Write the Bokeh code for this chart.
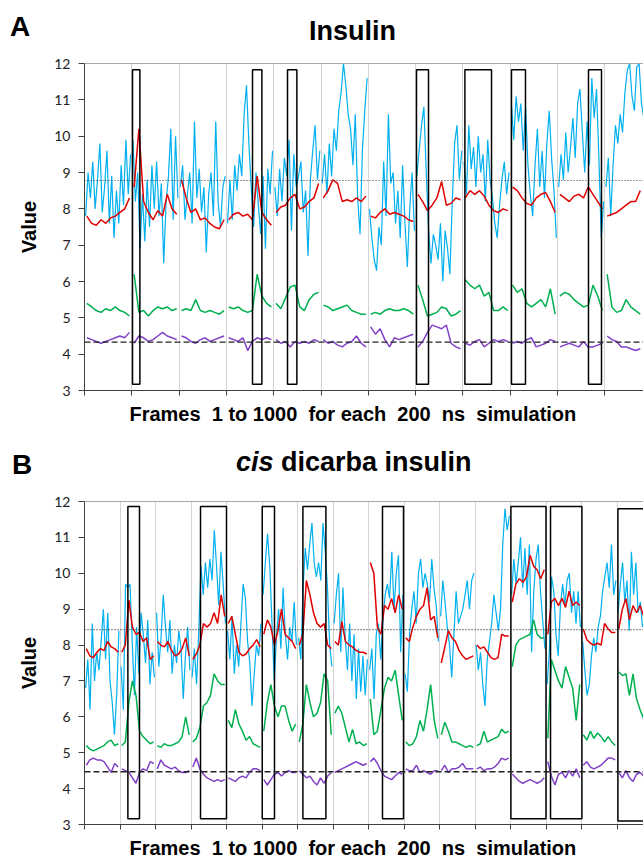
from bokeh.plotting import figure
from bokeh.layouts import column
from bokeh.models import Range1d, Span, FixedTicker, Div
from bokeh.embed import file_html
from bokeh.resources import INLINE

SEG = 1000  # frames per simulation

# ---------------- Panel A : Insulin (one list per 200 ns simulation) ----------------
a_blue = [
    [7.8, 9.0, 8.3, 9.3, 8.0, 8.8, 9.8, 7.9, 8.6, 9.6, 7.6, 8.9, 7.2, 8.5, 7.6, 9.2, 8.1, 9.9, 8.4, 9.5],
    [9.9, 8.2, 9.0, 6.9, 8.4, 7.1, 8.8, 7.5, 9.2, 8.0, 9.3, 7.8, 8.7, 6.5, 8.2, 8.9, 10.2, 7.7, 10.0, 8.3],
    [8.6, 9.2, 7.7, 8.4, 9.0, 7.6, 10.4, 8.3, 9.1, 7.9, 8.6, 6.8, 8.4, 9.0, 7.8, 10.4, 8.2, 7.5, 8.6, 8.9],
    [7.6, 8.8, 7.7, 9.2, 8.5, 9.5, 8.9, 10.6, 11.4, 9.8, 8.6, 7.5, 9.0, 8.1, 7.3, 8.9, 6.9, 9.1, 8.4, 9.6],
    [8.6, 7.8, 9.1, 8.2, 9.4, 8.9, 9.9, 7.4, 9.5, 8.6, 8.9, 9.3, 7.9, 8.5, 6.7, 8.8, 9.6, 10.3, 8.8, 9.6],
    [8.7, 9.5, 8.4, 9.8, 8.9, 10.2, 9.6, 10.7, 11.2, 12.0, 11.4, 10.6, 10.2, 9.2, 10.6, 8.3, 7.3, 9.6, 10.7, 11.6],
    [8.0, 7.2, 6.6, 6.3, 7.5, 7.0, 9.3, 7.8, 10.6, 8.7, 9.0, 7.6, 8.5, 7.2, 9.2, 7.6, 6.4, 8.0, 9.0, 7.4],
    [8.9, 9.6, 10.3, 10.8, 9.0, 7.4, 6.5, 7.3, 7.0, 6.6, 7.6, 6.0, 7.4, 6.9, 6.2, 8.2, 9.8, 10.3, 8.8, 9.6],
    [9.3, 8.4, 10.3, 9.1, 9.7, 8.6, 10.0, 9.0, 9.5, 8.2, 9.9, 8.8, 8.3, 7.6, 7.2, 8.1, 8.8, 9.3, 8.4, 9.0],
    [10.9, 9.9, 11.1, 10.4, 10.9, 9.6, 10.8, 9.2, 8.4, 7.8, 9.2, 10.2, 8.6, 9.6, 8.3, 9.8, 10.7, 9.4, 8.5, 7.2],
    [8.6, 9.5, 8.8, 10.1, 9.0, 9.7, 10.5, 9.4, 10.9, 11.3, 10.1, 9.0, 10.4, 9.2, 11.6, 10.5, 11.3, 9.4, 7.2, 8.2],
    [8.6, 9.4, 7.8, 9.2, 10.3, 9.8, 10.6, 10.1, 11.2, 11.8, 12.0, 11.1, 10.7, 11.9, 12.0, 10.9, 10.5],
]
a_red = [
    [7.8, 7.6, 7.55, 7.7, 7.6, 7.75, 7.8, 7.9, 8.0, 8.3],
    [8.6, 10.2, 8.2, 7.9, 7.7, 7.95, 7.8, 8.4, 8.0, 7.85],
    [8.8, 8.3, 7.9, 8.0, 7.7, 7.75, 7.6, 7.5, 7.45, 7.7],
    [7.7, 7.85, 7.9, 7.8, 7.85, 7.7, 8.9, 7.9, 7.7, 7.55],
    [7.9, 8.05, 8.1, 8.3, 8.4, 8.0, 8.05, 8.2, 8.3, 8.7],
    [8.3, 8.5, 8.8, 8.7, 8.2, 8.25, 8.2, 8.3, 8.2, 8.35],
    [7.8, 7.75, 7.9, 8.0, 7.85, 7.9, 7.85, 7.8, 7.7, 7.65],
    [8.4, 8.2, 7.95, 8.1, 8.3, 8.75, 8.1, 8.15, 8.3, 8.25],
    [8.3, 8.5, 8.4, 8.5, 8.35, 8.1, 7.95, 7.9, 8.0, 7.95],
    [8.6, 8.5, 8.3, 8.15, 8.1, 8.3, 8.4, 8.45, 8.2, 7.9],
    [8.4, 8.3, 8.2, 8.35, 8.4, 8.3, 8.6, 8.4, 8.2, 8.0],
    [7.8, 7.85, 7.9, 8.0, 8.1, 8.2, 8.2, 8.5],
]
a_green = [
    [5.4, 5.3, 5.2, 5.15, 5.25, 5.2, 5.3, 5.2, 5.15, 5.05],
    [6.2, 5.15, 5.2, 5.05, 5.2, 5.3, 5.25, 5.3, 5.2, 5.25],
    [5.2, 5.25, 5.2, 5.5, 5.2, 5.15, 5.2, 5.15, 5.1, 5.2],
    [5.3, 5.25, 5.3, 5.2, 5.15, 5.2, 6.2, 5.6, 5.4, 5.3],
    [5.4, 5.25, 5.55, 5.85, 5.9, 5.3, 5.2, 5.5, 5.65, 5.7],
    [5.35, 5.3, 5.2, 5.25, 5.3, 5.35, 5.2, 5.15, 5.1, 5.1],
    [5.1, 5.15, 5.1, 5.2, 5.25, 5.2, 5.2, 5.25, 5.2, 5.1],
    [5.9, 5.5, 5.05, 5.1, 5.15, 5.3, 5.25, 5.05, 5.1, 5.2],
    [6.05, 5.9, 5.8, 5.9, 5.6, 5.7, 5.2, 5.2, 5.3, 5.2],
    [5.9, 5.7, 5.8, 5.4, 5.3, 5.4, 5.5, 5.3, 5.8, 5.1],
    [5.6, 5.7, 5.65, 5.5, 5.4, 5.3, 5.35, 5.9, 5.6, 5.2],
    [6.2, 5.3, 5.15, 5.2, 5.5, 5.3, 5.2, 5.1],
]
a_purple = [
    [4.45, 4.4, 4.35, 4.3, 4.35, 4.4, 4.45, 4.5, 4.45, 4.6],
    [4.3, 4.5, 4.45, 4.35, 4.4, 4.5, 4.6, 4.5, 4.45, 4.4],
    [4.5, 4.45, 4.35, 4.3, 4.4, 4.45, 4.35, 4.4, 4.45, 4.5],
    [4.45, 4.4, 4.35, 4.45, 4.1, 4.35, 4.45, 4.4, 4.45, 4.4],
    [4.4, 4.3, 4.35, 4.2, 4.35, 4.3, 4.35, 4.3, 4.4, 4.35],
    [4.4, 4.3, 4.35, 4.25, 4.2, 4.3, 4.35, 4.5, 4.3, 4.2],
    [4.75, 4.55, 4.7, 4.4, 4.2, 4.45, 4.4, 4.45, 4.5, 4.55],
    [4.2, 4.35, 4.6, 4.8, 4.75, 4.7, 4.8, 4.3, 4.2, 4.15],
    [4.3, 4.25, 4.35, 4.4, 4.2, 4.3, 4.4, 4.35, 4.4, 4.35],
    [4.3, 4.35, 4.3, 4.4, 4.45, 4.2, 4.25, 4.3, 4.4, 4.35],
    [4.2, 4.25, 4.3, 4.25, 4.2, 4.35, 4.2, 4.2, 4.25, 4.3],
    [4.5, 4.4, 4.35, 4.2, 4.2, 4.15, 4.1, 4.15],
]
a_ref_dotted = 8.78
a_ref_dashed = 4.33
a_box_left = [1015, 3552, 4292, 7019, 8042, 9027, 10655]
a_box_right = [1171, 3750, 4490, 7273, 8605, 9323, 10930]
a_box_bottom = [3.17] * 7
a_box_top = [11.83] * 7

# ---------------- Panel B : cis dicarba insulin ----------------
b_blue = [
    [6.8, 7.6, 6.2, 8.6, 7.0, 7.8, 7.3, 8.1, 9.0, 7.6, 8.9, 7.0, 6.4, 5.5, 6.6, 8.4],
    [7.4, 6.2, 9.7, 9.6, 9.7, 8.1, 6.6, 8.5, 7.2, 8.9, 8.3, 7.5, 8.7, 6.9, 7.8, 7.1],
    [8.9, 7.4, 8.2, 9.4, 8.5, 7.8, 8.7, 7.2, 8.0, 7.5, 8.4, 7.9, 6.5, 7.7, 8.5, 7.3],
    [7.1, 7.9, 6.9, 8.4, 10.2, 9.4, 10.3, 9.6, 10.4, 9.8, 11.2, 10.2, 9.1, 10.6, 9.7, 8.6],
    [8.4, 7.6, 8.8, 7.2, 8.0, 7.4, 8.6, 9.7, 9.3, 8.1, 7.5, 6.3, 7.2, 8.0, 7.7, 8.6],
    [9.4, 10.3, 11.1, 10.2, 8.6, 7.0, 8.2, 9.0, 7.9, 9.6, 8.3, 7.6, 8.5, 8.1, 9.2, 8.0],
    [8.2, 7.6, 9.6, 10.7, 10.1, 10.8, 11.4, 10.3, 9.9, 10.3, 9.8, 11.4, 10.6, 9.6, 8.0, 7.4],
    [8.6, 9.4, 10.0, 7.8, 9.6, 8.2, 7.3, 8.6, 7.0, 8.3, 6.5, 7.9, 6.7, 7.7, 6.6, 7.6],
    [7.3, 7.9, 6.5, 8.3, 8.6, 7.6, 8.7, 9.4, 9.7, 9.3, 10.6, 9.0, 10.0, 10.5, 7.8, 9.4],
    [7.2, 6.7, 8.3, 9.0, 9.5, 8.6, 10.0, 10.4, 9.6, 10.0, 9.7, 9.2, 10.4, 9.6, 9.1, 8.1],
    [8.8, 9.8, 9.2, 8.5, 8.0, 7.1, 8.3, 9.5, 8.6, 8.8, 9.0, 9.4, 9.8, 9.0, 9.8, 10.0],
    [8.0, 7.3, 7.8, 6.9, 6.3, 7.6, 8.1, 8.6, 9.4, 8.9, 8.4, 9.0, 10.8, 11.8, 11.2, 11.6],
    [9.4, 10.4, 9.7, 10.3, 11.0, 9.6, 10.7, 9.4, 10.8, 7.8, 9.5, 10.4, 10.8, 9.5, 8.7, 7.9],
    [6.9, 7.8, 9.9, 9.5, 8.3, 7.7, 9.1, 9.7, 9.1, 9.8, 10.0, 8.9, 9.5, 8.6, 9.5, 8.5],
    [8.1, 7.3, 6.6, 6.9, 7.7, 8.2, 7.8, 8.5, 8.8, 9.5, 9.9, 10.3, 9.6, 10.8, 9.4, 9.8],
    [8.9, 9.7, 10.3, 9.2, 9.8, 8.4, 10.6, 9.4, 10.3, 8.9, 9.2, 8.5],
]
b_red = [
    [7.9, 7.7, 7.65, 7.8, 7.9, 7.85, 8.1, 7.95, 7.9, 7.8],
    [7.8, 8.0, 9.25, 8.5, 8.3, 8.35, 8.1, 8.2, 7.6, 7.7],
    [8.1, 8.0, 7.95, 8.1, 7.85, 7.7, 7.75, 7.9, 8.2, 7.7],
    [7.6, 7.75, 8.0, 8.6, 8.5, 8.6, 8.9, 8.6, 9.4, 8.8],
    [8.6, 8.8, 8.3, 7.8, 7.7, 7.75, 7.9, 8.0, 8.15, 7.95],
    [8.3, 8.7, 8.5, 8.0, 8.4, 9.0, 8.3, 8.2, 8.1, 7.9],
    [8.0, 8.3, 9.8, 9.4, 8.9, 8.6, 8.5, 8.6, 8.0, 7.9],
    [8.1, 8.0, 8.65, 8.1, 8.0, 7.95, 7.85, 7.8, 7.8, 7.75],
    [10.3, 10.0, 8.5, 8.3, 9.1, 9.0, 9.3, 8.9, 9.4, 9.0],
    [8.2, 8.1, 8.5, 8.8, 9.0, 9.1, 9.6, 8.7, 8.8, 8.2],
    [7.5, 7.95, 8.4, 8.2, 8.1, 7.85, 7.7, 7.6, 7.65, 7.7],
    [8.0, 7.9, 7.95, 7.8, 7.65, 7.6, 7.65, 8.3, 8.25, 8.25],
    [9.2, 9.7, 9.85, 9.75, 9.9, 10.5, 10.2, 10.1, 9.85, 10.1],
    [8.3, 9.2, 9.3, 9.1, 9.3, 9.05, 9.5, 9.1, 9.2, 9.1],
    [8.45, 8.15, 8.05, 8.0, 8.05, 8.0, 8.6, 8.45, 8.35, 8.35],
    [8.45, 9.0, 9.3, 8.7, 9.1, 8.9, 9.1, 8.8],
]
b_green = [
    [5.2, 5.1, 5.05, 5.1, 5.15, 5.2, 5.3, 5.35, 5.2, 5.25],
    [5.2, 5.3, 6.4, 7.0, 6.6, 5.6, 5.45, 5.35, 5.25, 5.3],
    [5.2, 5.15, 5.25, 5.2, 5.2, 5.25, 5.3, 5.45, 6.0, 5.5],
    [5.3, 5.4, 5.7, 6.3, 6.4, 6.6, 7.2, 7.0, 6.9, 6.9],
    [5.9, 5.7, 6.2, 5.8, 5.6, 5.35, 5.45, 5.25, 5.2, 5.15],
    [5.6, 6.4, 6.9, 6.3, 6.0, 6.3, 6.3, 5.9, 5.6, 5.8],
    [5.3, 5.8, 6.9, 6.4, 6.0, 6.1, 6.4, 7.2, 7.0, 5.5],
    [6.1, 6.3, 6.1, 5.7, 5.3, 5.65, 5.25, 5.3, 5.2, 5.25],
    [6.5, 5.5, 5.6, 6.2, 6.8, 7.1, 7.0, 7.3, 6.6, 5.9],
    [5.3, 5.2, 5.25, 5.45, 5.9, 5.6, 6.2, 6.9, 5.9, 5.4],
    [5.5, 5.85, 5.6, 5.3, 5.3, 5.25, 5.2, 5.15, 5.2, 5.15],
    [5.2, 5.25, 5.6, 5.3, 5.35, 5.4, 5.45, 5.65, 5.55, 5.6],
    [7.4, 8.0, 8.15, 8.2, 8.25, 8.3, 8.7, 8.3, 8.2, 8.2],
    [5.4, 7.6, 7.3, 7.0, 6.8, 7.4, 7.1, 6.8, 5.9, 6.9],
    [5.5, 5.35, 5.6, 5.4, 5.55, 5.45, 5.3, 5.45, 5.3, 5.2],
    [7.25, 7.15, 7.2, 6.6, 7.2, 6.5, 6.2, 5.95],
]
b_purple = [
    [4.65, 4.8, 4.85, 4.8, 4.8, 4.75, 4.6, 4.45, 4.7, 4.6],
    [4.55, 4.5, 4.45, 4.3, 4.15, 4.45, 4.55, 4.5, 4.75, 4.7],
    [4.55, 4.8, 4.65, 4.6, 4.55, 4.6, 4.5, 4.45, 4.45, 4.5],
    [4.6, 4.85, 4.55, 4.4, 4.3, 4.25, 4.2, 4.25, 4.2, 4.25],
    [4.3, 4.25, 4.2, 4.3, 4.35, 4.3, 4.45, 4.55, 4.55, 4.5],
    [4.25, 4.1, 4.25, 4.4, 4.45, 4.35, 4.45, 4.5, 4.45, 4.45],
    [4.5, 4.4, 4.3, 4.35, 4.2, 4.1, 4.3, 4.15, 4.35, 4.45],
    [4.45, 4.5, 4.55, 4.6, 4.65, 4.7, 4.75, 4.7, 4.65, 4.7],
    [4.75, 4.85, 4.7, 4.5, 4.35, 4.3, 4.25, 4.35, 4.45, 4.4],
    [4.55, 4.5, 4.5, 4.65, 4.45, 4.5, 4.45, 4.4, 4.5, 4.5],
    [4.5, 4.65, 4.45, 4.55, 4.55, 4.6, 4.7, 4.55, 4.55, 4.55],
    [4.55, 4.6, 4.5, 4.55, 4.55, 4.6, 4.7, 4.85, 4.8, 4.85],
    [4.4, 4.3, 4.2, 4.15, 4.2, 4.25, 4.2, 4.15, 4.2, 4.3],
    [4.75, 4.35, 4.1, 4.4, 4.45, 4.3, 4.5, 4.35, 4.55, 4.3],
    [4.65, 4.75, 4.6, 4.55, 4.6, 4.65, 4.75, 4.85, 4.85, 4.8],
    [4.45, 4.3, 4.5, 4.3, 4.2, 4.4, 4.45, 4.35],
]
b_ref_dotted = 8.43
b_ref_dashed = 4.47
b_box_left = [1222, 3268, 5006, 6152, 8394, 12011, 13127, 15025]
b_box_right = [1549, 4000, 5352, 6800, 8986, 13000, 14011, 16300]
b_box_bottom = [3.16, 3.16, 3.16, 3.16, 3.16, 3.16, 3.16, 3.1]
b_box_top = [11.86, 11.86, 11.86, 11.86, 11.86, 11.86, 11.86, 11.8]

y_ticks = [3, 4, 5, 6, 7, 8, 9, 10, 11, 12]
x_label = ("Frames\u00a0 1 to 1000\u00a0 for each\u00a0 200\u00a0 ns\u00a0 simulation"
           "\u00a0\u00a0\u00a0\u00a0")

BLUE, RED, GREEN, PURPLE = "#00B0F0", "#E00000", "#00B050", "#8040C8"
BOLD_FONT = "Liberation Sans"
W = 643


def seg_xy(segs, n):
    xs, ys = [], []
    for i, s in enumerate(segs):
        xs.append([i * SEG + (k + 0.5) * SEG / n for k in range(len(s))])
        ys.append(list(s))
    return xs, ys


def make_panel(height, xmax, n_seg, top, bottom, series, refs, boxes, xlab_standoff):
    p = figure(width=W, height=height, x_range=Range1d(0, xmax), y_range=Range1d(3, 12),
               output_backend="svg", toolbar_location=None,
               min_border_left=84, min_border_right=0, min_border_top=top, min_border_bottom=bottom)
    p.outline_line_color = None
    p.ygrid.visible = False
    seg_ticks = [i * SEG for i in range(n_seg + 1)]
    p.xgrid.ticker = FixedTicker(ticks=seg_ticks)
    p.xgrid.grid_line_color = "#d4d4d4"
    p.xgrid.grid_line_width = 1

    xa = p.xaxis[0]
    xa.ticker = FixedTicker(ticks=seg_ticks)
    xa.major_label_text_font_size = "1px"
    xa.major_label_text_color = None
    xa.major_label_standoff = 0
    xa.major_tick_out = 5
    xa.major_tick_in = 0
    xa.minor_tick_out = 0
    xa.minor_tick_in = 0
    xa.axis_line_color = "#404040"
    xa.major_tick_line_color = "#404040"
    xa.axis_label = x_label
    xa.axis_label_text_font = BOLD_FONT
    xa.axis_label_text_font_style = "bold"
    xa.axis_label_text_font_size = "20px"
    xa.axis_label_text_color = "black"
    xa.axis_label_standoff = xlab_standoff

    ya = p.yaxis[0]
    ya.ticker = FixedTicker(ticks=y_ticks)
    ya.major_tick_out = 6
    ya.major_tick_in = 0
    ya.minor_tick_out = 0
    ya.minor_tick_in = 0
    ya.axis_line_color = "#404040"
    ya.major_tick_line_color = "#404040"
    ya.major_label_text_font = "Lato"
    ya.major_label_text_font_size = "14px"
    ya.major_label_text_color = "#222222"
    ya.major_label_standoff = 8
    ya.axis_label = "Value"
    ya.axis_label_text_font = BOLD_FONT
    ya.axis_label_text_font_style = "bold"
    ya.axis_label_text_font_size = "20px"
    ya.axis_label_text_color = "black"
    ya.axis_label_standoff = 11

    for segs, n, color, lw in series:
        xs, ys = seg_xy(segs, n)
        p.multi_line(xs=xs, ys=ys, line_color=color, line_width=lw)

    dotted, dashed = refs
    p.add_layout(Span(location=12, dimension="width", line_color="#555555", line_width=1.2))
    p.add_layout(Span(location=dotted, dimension="width", line_color="#333333",
                      line_width=1.2, line_dash="1 2"))
    p.add_layout(Span(location=dashed, dimension="width", line_color="#222222",
                      line_width=1.3, line_dash="6 3"))

    left, right, bot, tp = boxes
    p.quad(left=left, right=right, bottom=bot, top=tp, fill_color=None,
           line_color="black", line_width=1.5)
    return p


def header(height, letter, letter_top, letter_left, title_html, title_top, title_left):
    html = (
        f'<div style="position:relative;width:{W}px;height:{height}px;'
        f"font-family:'Liberation Sans',Arial,sans-serif;font-weight:bold;"
        f'line-height:30px;color:#000;">'
        f'<span style="position:absolute;left:{letter_left}px;top:{letter_top}px;font-size:28px;">{letter}</span>'
        f'<span style="position:absolute;left:{title_left}px;top:{title_top}px;font-size:27px;white-space:nowrap;">{title_html}</span>'
        f'</div>'
    )
    return Div(text=html, width=W, height=height, margin=(0, 0, 0, 0))


head_a = header(50, "A", 12, 10, "Insulin", 16, 309)
pa = make_panel(390, 11818, 12, 13, 50,
                [(a_blue, 20, BLUE, 1.2), (a_red, 10, RED, 1.5), (a_green, 10, GREEN, 1.5),
                 (a_purple, 10, PURPLE, 1.5)],
                (a_ref_dotted, a_ref_dashed),
                (a_box_left, a_box_right, a_box_bottom, a_box_top), 7)

head_b = header(46, "B", 10, 12, "<i>cis</i> dicarba insulin", 7, 236)
pb = make_panel(375, 15746, 16, 15, 36,
                [(b_blue, 16, BLUE, 1.2), (b_red, 10, RED, 1.5), (b_green, 10, GREEN, 1.5),
                 (b_purple, 10, PURPLE, 1.5)],
                (b_ref_dotted, b_ref_dashed),
                (b_box_left, b_box_right, b_box_bottom, b_box_top), 7)

layout = column(head_a, pa, head_b, pb, spacing=0)
open("out.html", "w").write(file_html(layout, INLINE))
